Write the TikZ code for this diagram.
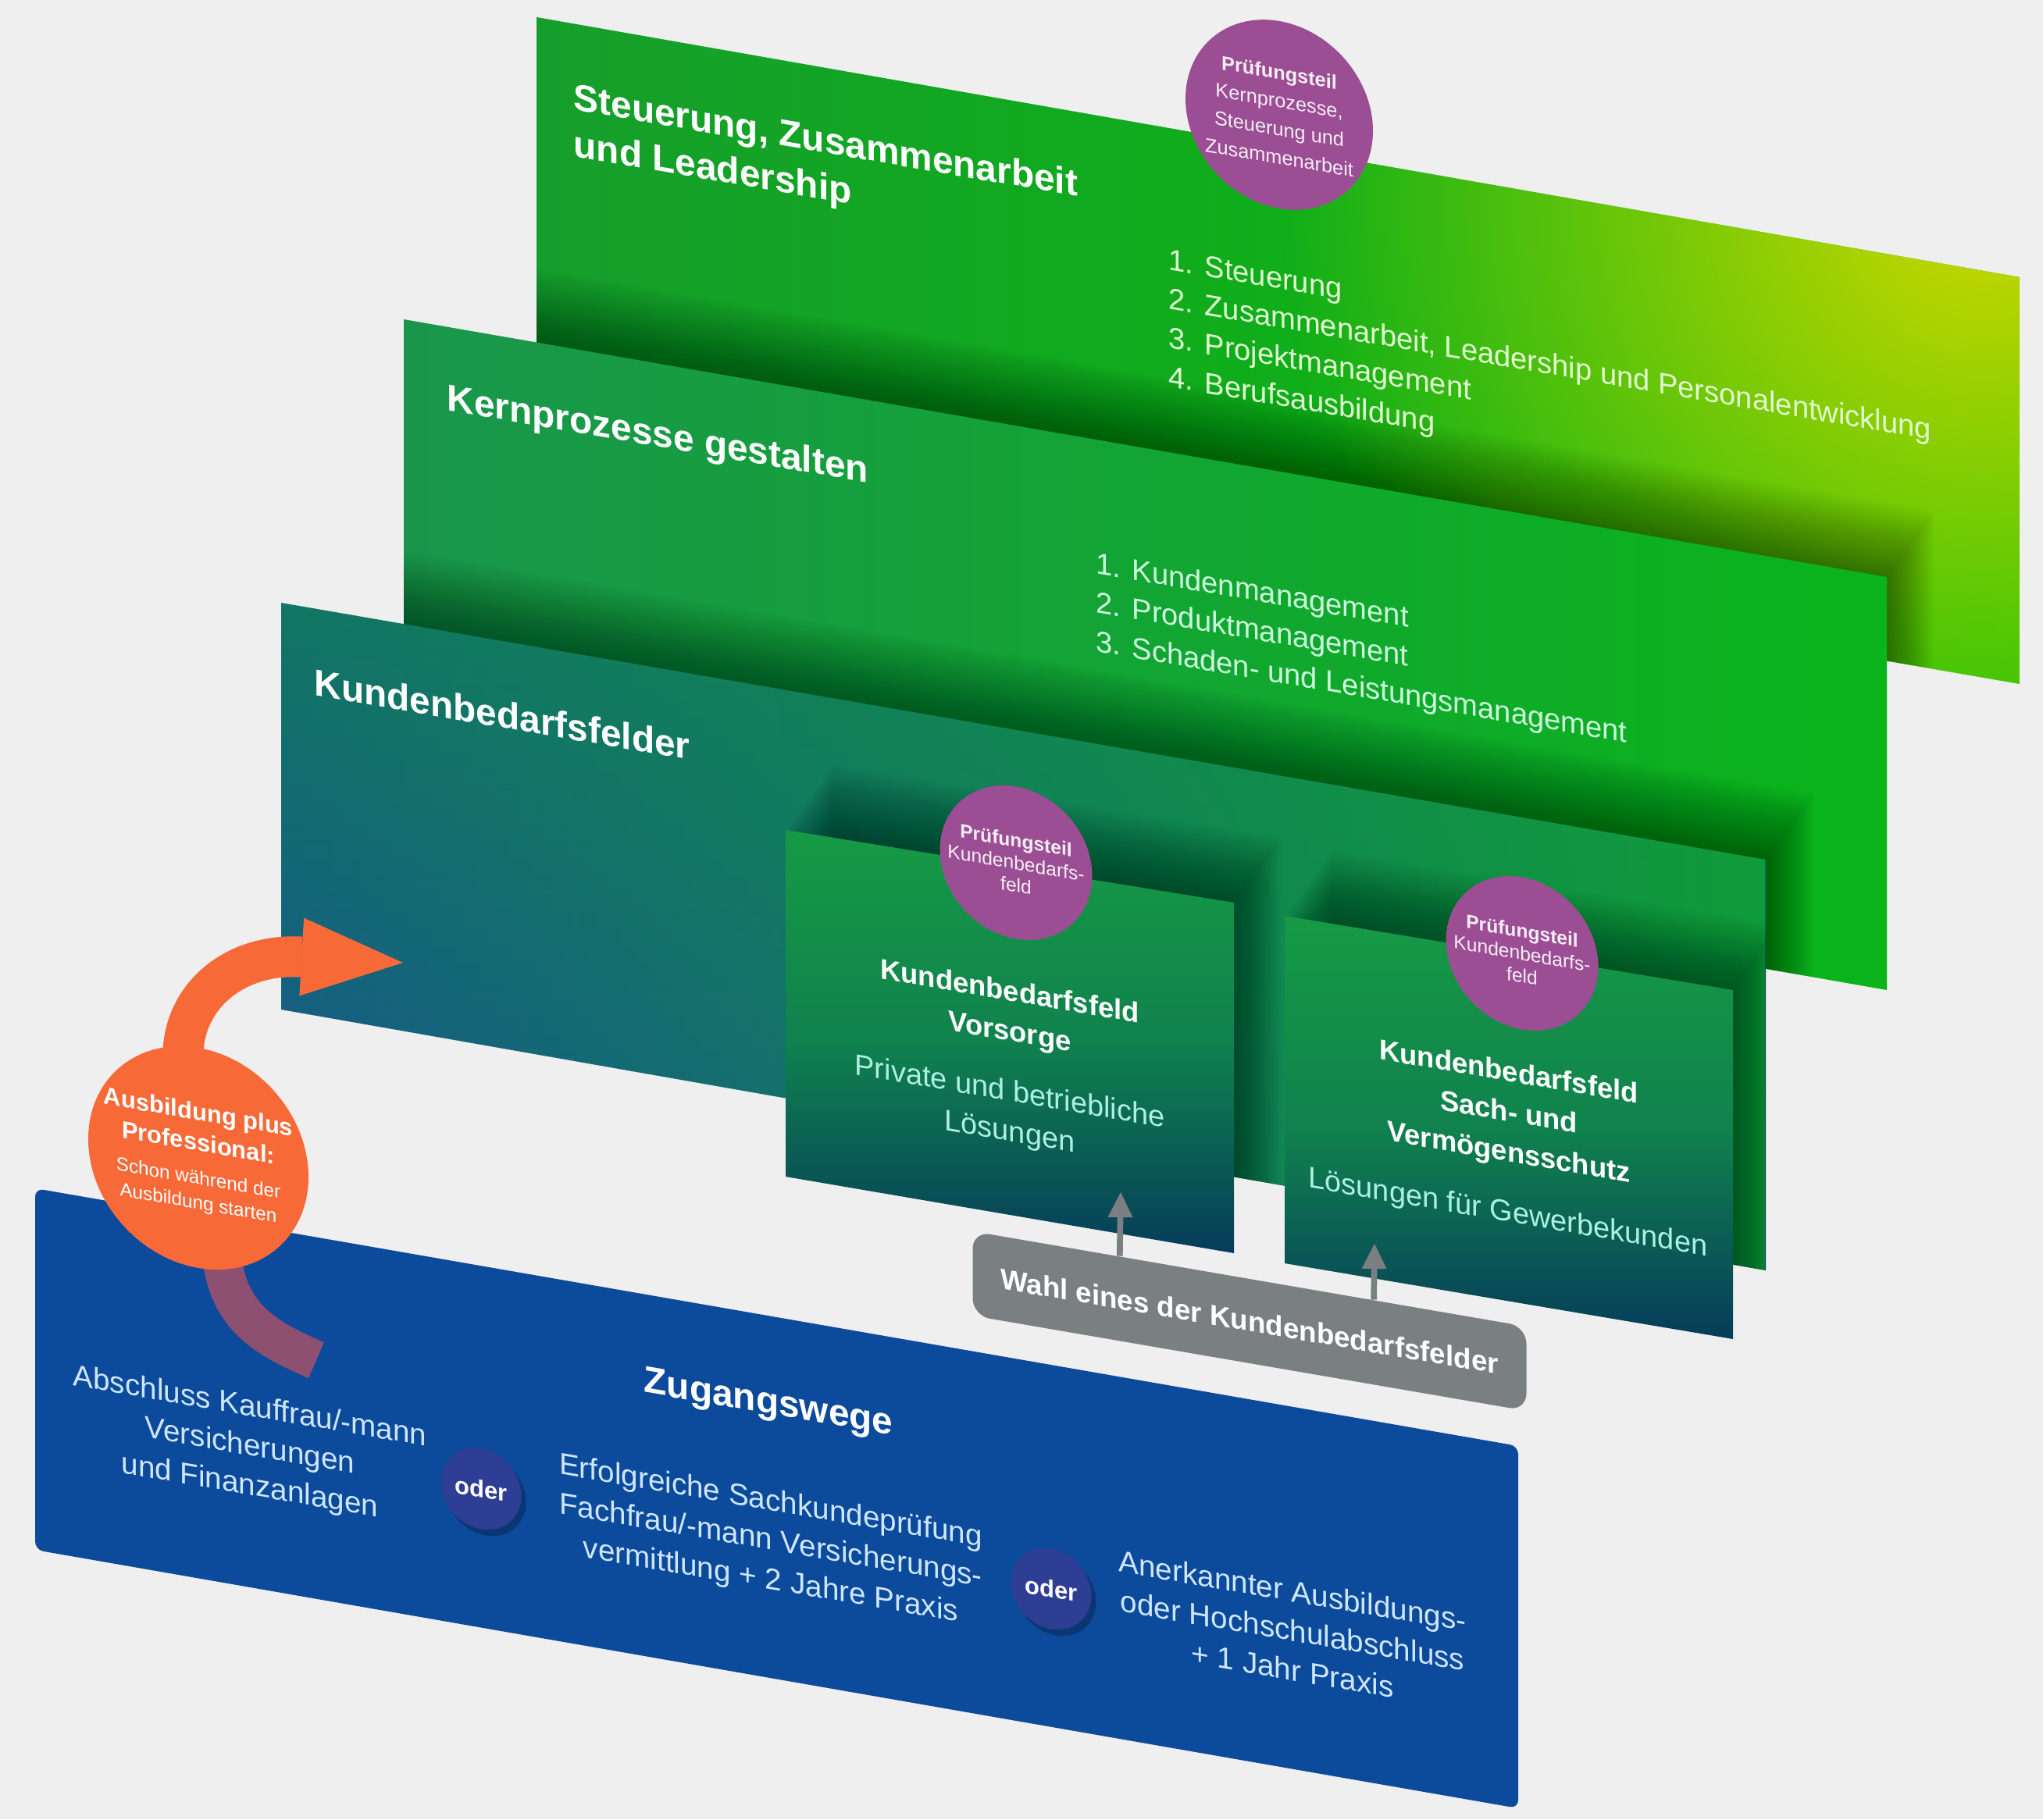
\documentclass[tikz,border=0pt]{standalone}
\usepackage{fontspec}
\setmainfont{Liberation Sans}
\usetikzlibrary{positioning,arrows.meta,calc,shadows,fadings}

\definecolor{bggray}{RGB}{239,239,239}
\definecolor{steuerL}{RGB}{22,158,44}
\definecolor{steuerR}{RGB}{8,190,8}
\definecolor{steuerglow}{RGB}{206,216,0}
\definecolor{kernL}{RGB}{26,150,76}
\definecolor{kernR}{RGB}{10,180,26}
\definecolor{kbfTop}{RGB}{18,118,100}
\definecolor{kbfBot}{RGB}{24,80,148}
\definecolor{kbfGreen}{RGB}{16,156,58}
\definecolor{feldTop}{RGB}{22,154,68}
\definecolor{feldMid}{RGB}{16,130,78}
\definecolor{feldBot}{RGB}{6,60,90}
\definecolor{zugblue}{RGB}{12,74,156}
\definecolor{wahlgray}{RGB}{122,128,130}
\definecolor{pruefpurple}{RGB}{155,78,148}
\definecolor{ausborange}{RGB}{248,105,56}
\definecolor{ausbtailcol}{RGB}{142,80,112}
\definecolor{oderblue}{RGB}{46,62,148}
\definecolor{listgreen}{RGB}{226,250,210}
\definecolor{listmint}{RGB}{205,250,222}
\definecolor{feldtext}{RGB}{172,240,226}
\definecolor{zugtext}{RGB}{206,230,255}

\tikzfading[name=fromright, left color=transparent!100, right color=transparent!0]
\tikzfading[name=glow, inner color=transparent!0, outer color=transparent!100]

\pgfdeclarelayer{bands}
\pgfdeclarelayer{dots}
\pgfsetlayers{main,bands,dots}

\tikzset{
slanted/.style={yslant=-0.172},
castshadow/.style={black, opacity=0.018},
paneltitle/.style={slanted, inner sep=0pt, anchor=north west, align=left, text=white,
  font=\fontsize{13.6}{17}\selectfont\bfseries},
listtext/.style={slanted, inner sep=0pt, anchor=north west, align=left,
  font=\fontsize{10.85}{14.2}\selectfont},
feldhead/.style={slanted, inner sep=0pt, align=center, text=white,
  font=\fontsize{10.35}{14.6}\selectfont\bfseries},
feldbody/.style={slanted, inner sep=0pt, align=center, text=feldtext,
  font=\fontsize{10.8}{14.6}\selectfont},
zugbody/.style={slanted, inner sep=0pt, align=center, text=zugtext,
  font=\fontsize{11}{14.4}\selectfont},
pruefdot/.style={slanted, circle, fill=pruefpurple, inner sep=0pt, align=center,
  text=white!90!pruefpurple},
oderdot/.style={slanted, circle, fill=oderblue, minimum size=1.03cm, inner sep=0pt,
  text=white, font=\fontsize{8.8}{10}\selectfont\bfseries,
  drop shadow={shadow xshift=0.6mm, shadow yshift=-0.8mm, fill=black, opacity=0.25}},
wahlbox/.style={slanted, fill=wahlgray, rounded corners=0.22cm, minimum width=7.09cm,
  minimum height=1.08cm, text=white, font=\fontsize{10.45}{12}\selectfont\bfseries},
wahlarrow/.style={draw=wahlgray, line width=2.2pt,
  -{Triangle[length=3.2mm 0, width=3.2mm 0, line width=0pt 0]}},
ausbdot/.style={slanted, circle, fill=ausborange, minimum size=2.82cm, inner sep=0pt,
  align=center, text=white, font=\fontsize{8.8}{11.2}\selectfont\bfseries},
ausbarrow/.style={draw=ausborange, line width=0.52cm, shorten <=-4mm,
  -{Triangle[length=1.3cm 0, width=1.0cm 0, line width=0pt 0]}},
ausbtail/.style={draw=ausbtailcol, line width=0.5cm, shorten <=-4mm},
}

\begin{document}
\begin{tikzpicture}[y=-1cm]
\fill[bggray] (0,0) rectangle (26.16,23.30);
\useasboundingbox (0,0) rectangle (26.16,23.30);

% Steuerung, Zusammenarbeit und Leadership
\shade[left color=steuerL, right color=steuerR] (6.87,0.22) -- (25.86,3.55) -- (25.86,8.76) -- (6.87,5.46) -- cycle;
\begin{scope}
  \clip (6.87,0.22) -- (25.86,3.55) -- (25.86,8.76) -- (6.87,5.46) -- cycle;
  \fill[steuerglow, path fading=glow] (25.4,2.6) circle (9);
  \foreach \k in {1,...,24}
    \fill[castshadow, shift={(0.025*\k,-0.035*\k)}] (5.17,4.09) -- (24.16,7.39) -- (24.16,12.68) -- (5.17,9.35) -- cycle;
\end{scope}
\node[pruefdot, minimum size=2.40cm, font=\fontsize{7.2}{10.3}\selectfont] (pt-kern) at (16.38,1.47)
  {\textbf{Prüfungsteil}\\Kernprozesse,\\Steuerung und\\Zusammenarbeit};
\node[paneltitle] (steuer-title) at (7.34,1.05) {Steuerung, Zusammenarbeit\\und Leadership};
\node[listtext, text=listgreen] (steuer-list) at (14.96,3.18)
  {1. Steuerung\\2. Zusammenarbeit, Leadership und Personalentwicklung\\3. Projektmanagement\\4. Berufsausbildung};

% Kernprozesse gestalten
\shade[left color=kernL, right color=kernR] (5.17,4.09) -- (24.16,7.39) -- (24.16,12.68) -- (5.17,9.35) -- cycle;
\begin{scope}
  \clip (5.17,4.09) -- (24.16,7.39) -- (24.16,12.68) -- (5.17,9.35) -- cycle;
  \foreach \k in {1,...,24}
    \fill[castshadow, shift={(0.025*\k,-0.035*\k)}] (3.60,7.72) -- (22.61,11.01) -- (22.61,16.27) -- (3.60,12.93) -- cycle;
\end{scope}
\node[paneltitle] (kern-title) at (5.72,4.90) {Kernprozesse gestalten};
\node[listtext, text=listmint] (kern-list) at (14.03,7.06)
  {1. Kundenmanagement\\2. Produktmanagement\\3. Schaden- und Leistungsmanagement};

% Kundenbedarfsfelder
\shade[top color=kbfTop, bottom color=kbfBot] (3.60,7.72) -- (22.61,11.01) -- (22.61,16.27) -- (3.60,12.93) -- cycle;
\begin{scope}
  \clip (3.60,7.72) -- (22.61,11.01) -- (22.61,16.27) -- (3.60,12.93) -- cycle;
  \fill[kbfGreen, path fading=fromright] (3.60,7.72) rectangle (22.61,16.27);
  \foreach \k in {1,...,24} {
    \fill[castshadow, shift={(0.025*\k,-0.035*\k)}] (10.06,10.63) -- (15.80,11.56) -- (15.80,16.05) -- (10.06,15.07) -- cycle;
    \fill[castshadow, shift={(0.025*\k,-0.035*\k)}] (16.45,11.73) -- (22.19,12.68) -- (22.19,17.15) -- (16.45,16.18) -- cycle;
  }
\end{scope}
\node[paneltitle] (kbf-title) at (4.02,8.55) {Kundenbedarfsfelder};

\shade[top color=feldTop, bottom color=feldBot, middle color=feldMid] (10.06,10.63) -- (15.80,11.56) -- (15.80,16.05) -- (10.06,15.07) -- cycle;
\shade[top color=feldTop, bottom color=feldBot, middle color=feldMid] (16.45,11.73) -- (22.19,12.68) -- (22.19,17.15) -- (16.45,16.18) -- cycle;

\node[pruefdot, minimum size=1.95cm, font=\fontsize{7}{8.2}\selectfont] (pt-vorsorge) at (13.01,11.05)
  {\textbf{Prüfungsteil}\\Kundenbedarfs-\\feld};
\node[pruefdot, minimum size=1.95cm, font=\fontsize{7}{8.2}\selectfont] (pt-sach) at (19.49,12.21)
  {\textbf{Prüfungsteil}\\Kundenbedarfs-\\feld};

\node[feldhead] (vorsorge-head) at (12.93,12.98) {Kundenbedarfsfeld\\Vorsorge};
\node[feldbody] (vorsorge-body) at (12.93,14.26) {Private und betriebliche\\Lösungen};
\node[feldhead] (sach-head) at (19.32,14.27) {Kundenbedarfsfeld\\Sach- und\\Vermögensschutz};
\node[feldbody] (sach-body) at (19.31,15.55) {Lösungen für Gewerbekunden};

% Zugangswege
\fill[zugblue, rounded corners=3pt] (0.45,15.22) -- (19.44,18.52) -- (19.44,23.16) -- (0.45,19.85) -- cycle;
\node[slanted, inner sep=0pt, text=white, font=\fontsize{13.6}{17}\selectfont\bfseries] (zug-title) at (9.84,17.99) {Zugangswege};
\node[zugbody] (zug-kauf) at (3.20,18.54) {Abschluss Kauffrau/-mann\\Versicherungen\\und Finanzanlagen};
\node[zugbody] (zug-sachkunde) at (9.87,19.75) {Erfolgreiche Sachkundeprüfung\\Fachfrau/-mann Versicherungs-\\vermittlung + 2 Jahre Praxis};
\node[zugbody] (zug-abschluss) at (16.55,20.88) {Anerkannter Ausbildungs-\\oder Hochschulabschluss\\+ 1 Jahr Praxis};
\node[oderdot] (oder-a) at (6.16,19.07) {oder};
\node[oderdot] (oder-b) at (13.46,20.35) {oder};

% Wahl eines der Kundenbedarfsfelder
\node[wahlbox] (wahl) at (16.00,16.92) {Wahl eines der Kundenbedarfsfelder};
\coordinate (vorsorge-in) at (14.35,15.27);
\coordinate (sach-in) at (17.60,15.93);
\draw[wahlarrow] ($(wahl.north west)!0.266!(wahl.north east)$) -- (vorsorge-in);
\draw[wahlarrow] ($(wahl.north west)!0.724!(wahl.north east)$) -- (sach-in);

% Ausbildung plus Professional
\begin{pgfonlayer}{dots}
\node[ausbdot] (ausb) at (2.54,14.83)
  {Ausbildung plus\\Professional:\\[1pt]{\fontsize{6.9}{8.3}\selectfont\mdseries Schon während der}\\[-2.2pt]{\fontsize{6.9}{8.3}\selectfont\mdseries Ausbildung starten}};
\end{pgfonlayer}
\begin{pgfonlayer}{bands}
\coordinate (ausb-tip) at (5.16,12.33);
\coordinate (tail-end) at (4.05,17.42);
\draw[ausbtail] (ausb.282) .. controls (2.85,16.8) and (3.3,17.1) .. (tail-end);
\draw[ausbarrow] (ausb.100) .. controls (2.2,12.9) and (2.9,12.2) .. (ausb-tip);
\end{pgfonlayer}
\end{tikzpicture}
\end{document}
